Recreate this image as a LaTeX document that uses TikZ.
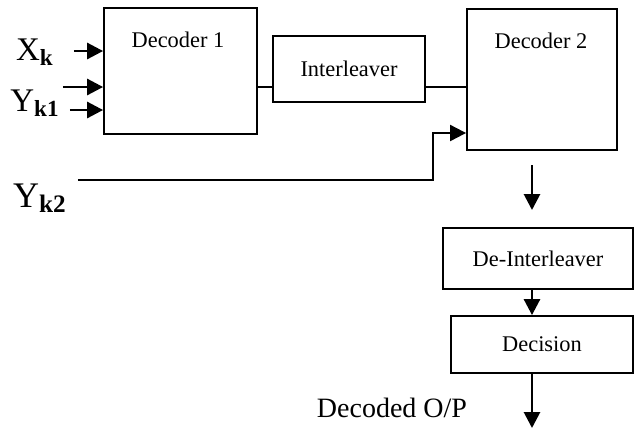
\documentclass[tikz,border=0pt]{standalone}
\usepackage{fontspec}
\setmainfont{Liberation Serif}
\usetikzlibrary{arrows.meta, positioning}

\begin{document}
\begin{tikzpicture}[
    x=0.5pt, y=-0.5pt,
    block/.style={draw, line width=0.9pt, inner sep=0pt, font=\fontsize{11.2}{13}\selectfont},
    blocktext/.style={font=\fontsize{11.2}{13}\selectfont, inner sep=0pt},
    sig/.style={font=\fontsize{16.5}{19}\selectfont, inner sep=0pt},
    arrow/.style={line width=1.4pt, -{Triangle[length=8pt, width=8pt]}},
    wire/.style={line width=0.9pt}
]
    \useasboundingbox (0,0) rectangle (634,430);

    % Blocks
    \node[block, minimum width=76.5pt, minimum height=63pt] (dec1) at (180.5,71) {};
    \node[block, minimum width=76pt, minimum height=33pt] (inter) at (349,69) {Interleaver};
    \node[block, minimum width=75pt, minimum height=70.5pt] (dec2) at (542,79.5) {};
    \node[block, minimum width=95pt, minimum height=30.5pt] (deint) at (538,258.5) {De-Interleaver};
    \node[block, minimum width=91pt, minimum height=28.5pt] (decis) at (542,344.5) {Decision};
    \node[blocktext] (dec1lbl) at (178,40) {Decoder 1};
    \node[blocktext] (dec2lbl) at (541,41) {Decoder 2};

    % Inputs
    \node[sig] (xk) at (35,52) {X\textsubscript{\textbf{k}}};
    \node[sig] (yk1) at (35,103) {Y\textsubscript{\textbf{k1}}};
    \node[sig, font=\fontsize{18}{21}\selectfont] (yk2) at (40,198) {Y\textsubscript{\textbf{k2}}};
    \foreach \n/\x/\y in {1/74/51, 2/63/87, 3/70/110} {
        \coordinate (in\n) at (\x,\y);
        \draw[arrow] (in\n) -- (dec1.west |- in\n);
    }

    % Connections
    \coordinate (link) at (0,87);
    \draw[wire] (dec1.east |- link) -- (inter.west |- link);
    \draw[wire] (inter.east |- link) -- (dec2.west |- link);
    \coordinate (yk2in) at (78,180);
    \coordinate (bend) at (433,133);
    \draw[arrow, line width=1pt] (yk2in) -| (bend) -- (dec2.west |- bend);

    % Output chain
    \coordinate (d2a) at (532,165);
    \coordinate (d2b) at (532,210);
    \coordinate (out) at (532,428);
    \draw[arrow] (d2a) -- (d2b);
    \draw[arrow] (deint.south -| d2a) -- (decis.north -| d2a);
    \draw[arrow] (decis.south -| d2a) -- (out);
    \node[font=\fontsize{14}{17}\selectfont, inner sep=0pt] (decoded) at (392,408) {Decoded O/P};
\end{tikzpicture}
\end{document}
